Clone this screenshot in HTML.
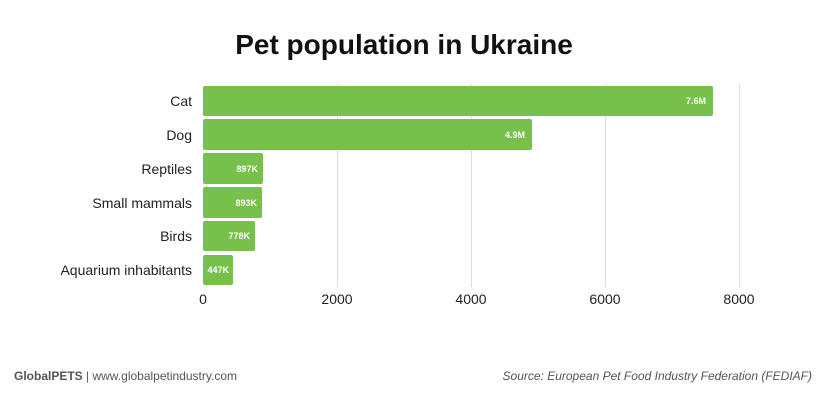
<!DOCTYPE html>
<html><head><style>
body{margin:0;background:#fff;}
svg{display:block;font-family:"Liberation Sans",sans-serif;}
</style></head><body>
<svg width="832" height="406" viewBox="0 0 832 406">
<rect width="832" height="406" fill="#fff"/>
<text x="404" y="54" text-anchor="middle" font-size="28" font-weight="bold" fill="#111">Pet population in Ukraine</text>
<g stroke="#ddd" stroke-width="1">
<line x1="337.5" y1="84" x2="337.5" y2="287"/>
<line x1="471.5" y1="84" x2="471.5" y2="287"/>
<line x1="605.5" y1="84" x2="605.5" y2="287"/>
<line x1="739.5" y1="84" x2="739.5" y2="287"/>
</g>
<g fill="#77c04b">
<rect x="203" y="86" width="510" height="30" rx="2"/>
<rect x="203" y="119" width="329" height="31" rx="2"/>
<rect x="203" y="153" width="60" height="31" rx="2"/>
<rect x="203" y="187" width="59" height="31" rx="2"/>
<rect x="203" y="221" width="52" height="30" rx="2"/>
<rect x="203" y="255" width="30" height="30" rx="2"/>
</g>
<g fill="#fff" font-size="9" font-weight="bold" text-anchor="end">
<text x="706" y="104">7.6M</text>
<text x="525" y="138">4.9M</text>
<text x="258" y="172">897K</text>
<text x="257" y="206">893K</text>
<text x="250" y="239">778K</text>
<text x="229" y="273">447K</text>
</g>
<g fill="#222" font-size="14" text-anchor="end">
<text x="192" y="106">Cat</text>
<text x="192" y="140">Dog</text>
<text x="192" y="174">Reptiles</text>
<text x="192" y="208">Small mammals</text>
<text x="192" y="241">Birds</text>
<text x="192" y="275">Aquarium inhabitants</text>
</g>
<g fill="#222" font-size="14" text-anchor="middle">
<text x="203" y="304">0</text>
<text x="337" y="304">2000</text>
<text x="471" y="304">4000</text>
<text x="605" y="304">6000</text>
<text x="739" y="304">8000</text>
</g>
<text x="14" y="380" font-size="12" fill="#555"><tspan font-weight="bold">GlobalPETS</tspan> | www.globalpetindustry.com</text>
<text x="812" y="380" font-size="12" fill="#555" font-style="italic" text-anchor="end">Source: European Pet Food Industry Federation (FEDIAF)</text>
</svg>
</body></html>
